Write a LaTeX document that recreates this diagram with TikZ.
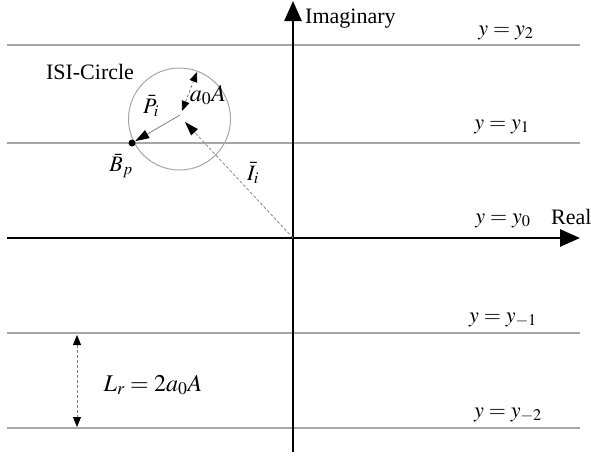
\documentclass[tikz,border=0pt]{standalone}
\usepackage{mathptmx}
\usepackage[no-math]{fontspec}
\setmainfont{Liberation Serif}
\usetikzlibrary{arrows.meta,positioning}
\definecolor{levelgrey}{HTML}{A6A6A6}
\definecolor{vecgrey}{HTML}{808080}
\tikzset{
  axis/.style={line width=2.6pt, draw=black, -{Triangle[length=20pt,width=17pt]}},
  level/.style={line width=1.3pt, draw=levelgrey},
  isi/.style={line width=1pt, draw=levelgrey},
  vec/.style={line width=0.8pt, draw=vecgrey,
              -{Triangle[length=14pt,width=9pt,color=black]}},
  dvec/.style={vec, dash pattern=on 3pt off 2pt},
  gap/.style={line width=0.8pt, draw=vecgrey, dash pattern=on 3pt off 2pt,
              {Triangle[length=10pt,width=8pt,color=black]}-{Triangle[length=10pt,width=8pt,color=black]}},
  lbl/.style={font=\fontsize{22}{26}\selectfont, inner sep=0pt},
  biglbl/.style={font=\fontsize{24}{28}\selectfont, inner sep=0pt},
}

\begin{document}
\begin{tikzpicture}[x=1pt,y=-1pt]
\useasboundingbox (0,0) rectangle (591,461);

% ========================= level lines ===================================
\foreach \n/\yy in {2/45, 1/143, m1/333, m2/428} {
  \coordinate (lw\n) at (7,\yy);  \coordinate (le\n) at (580,\yy);
  \draw[level] (lw\n) -- (le\n);
}
\node[lbl] (ly2)  at (506, 33) {$y=y_2$};
\node[lbl] (ly1)  at (502,127) {$y=y_1$};
\node[lbl] (ly0)  at (503,221) {$y=y_0$};
\node[lbl] (lym1) at (503,320) {$y=y_{-1}$};
\node[lbl] (lym2) at (508,415) {$y=y_{-2}$};

% ========================= axes ==========================================
\coordinate (O)  at (293,238);
\coordinate (rw) at (7,238);   \coordinate (re) at (580,238);
\coordinate (ib) at (293,452); \coordinate (it) at (293,1);
\draw[axis] (rw) -- (re);
\draw[axis] (ib) -- (it);
\node[lbl, anchor=west] (real) at (551,217) {Real};
\node[lbl, anchor=west] (imag) at (305,19)  {Imaginary};

% ========================= ISI circle ====================================
\node[circle, isi, minimum size=102pt, inner sep=0pt] (isic) at (179.5,119) {};
\node[lbl] (isilbl) at (90,72) {ISI-Circle};
\coordinate (pc) at (180,115);
\node[circle, fill=black, inner sep=0pt, minimum size=7pt] (bp) at (132,143) {};
\coordinate (itip) at (185,122);
\coordinate (abot) at (182,111); \coordinate (atop) at (197,72);

\draw[vec]  (pc) -- (bp);
\draw[dvec] (O) -- (itip);
\draw[gap]  (abot) -- (atop);

\node[lbl]    (plbl) at (151,106) {$\bar{P}_i$};
\node[biglbl] (albl) at (208,95)  {$a_0A$};
\node[lbl]    (blbl) at (121,166) {$\bar{B}_p$};
\node[lbl]    (ilbl) at (253,173) {$\bar{I}_i$};

% ========================= line spacing ==================================
\coordinate (lrt) at (77,335); \coordinate (lrb) at (77,427);
\draw[gap] (lrt) -- (lrb);
\node[biglbl] (lrlbl) at (153,385) {$L_r=2a_0A$};
\end{tikzpicture}
\end{document}
